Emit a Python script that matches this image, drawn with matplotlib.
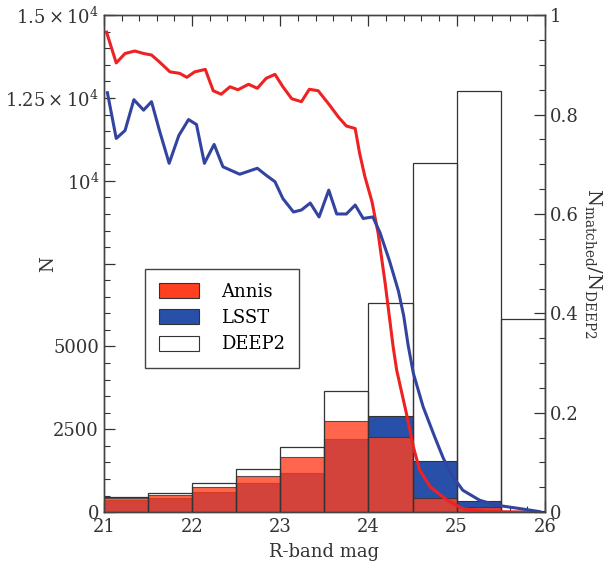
import matplotlib
matplotlib.use("Agg")
import matplotlib.pyplot as plt
from matplotlib.patches import Patch
from matplotlib.ticker import MultipleLocator
import numpy as np

plt.rcParams["font.family"] = ["DejaVu Serif"]
plt.rcParams["mathtext.fontset"] = "dejavuserif"

# histogram bins (R-band mag, 0.5 wide)
bin_left = [21.0, 21.5, 22.0, 22.5, 23.0, 23.5, 24.0, 24.5, 25.0, 25.5]
deep2_counts = [470, 575, 866, 1288, 1972, 3652, 6318, 10525, 12700, 5816]
annis_counts = [440, 520, 745, 1097, 1670, 2757, 2274, 435, 160, 5]
lsst_counts = [370, 440, 613, 885, 1188, 2193, 2898, 1539, 342, 25]

# matched fraction curves
annis_mag = [21.03, 21.14, 21.24, 21.35, 21.45, 21.54, 21.63, 21.75, 21.86, 21.94,
             22.03, 22.15, 22.24, 22.33, 22.43, 22.52, 22.64, 22.74, 22.84, 22.94,
             23.03, 23.13, 23.24, 23.33, 23.43, 23.56, 23.66, 23.75, 23.85, 23.90,
             23.96, 24.04, 24.11, 24.19, 24.28, 24.32, 24.43, 24.51, 24.58, 24.70,
             24.89, 25.07, 25.34, 25.90]
annis_frac = [0.966, 0.904, 0.923, 0.928, 0.923, 0.920, 0.906, 0.886, 0.883, 0.875,
              0.886, 0.891, 0.848, 0.841, 0.856, 0.850, 0.861, 0.853, 0.873, 0.881,
              0.856, 0.832, 0.826, 0.851, 0.848, 0.819, 0.795, 0.777, 0.772, 0.722,
              0.675, 0.625, 0.561, 0.460, 0.333, 0.286, 0.199, 0.131, 0.085, 0.051,
              0.024, 0.007, 0.001, 0.0]
lsst_mag = [21.04, 21.14, 21.24, 21.34, 21.45, 21.54, 21.63, 21.74, 21.85, 21.96,
            22.05, 22.14, 22.25, 22.35, 22.54, 22.74, 22.84, 22.94, 23.03, 23.15,
            23.24, 23.34, 23.44, 23.55, 23.64, 23.75, 23.85, 23.94, 24.05, 24.13,
            24.24, 24.34, 24.40, 24.45, 24.51, 24.62, 24.75, 24.85, 24.96, 25.07,
            25.26, 25.45, 25.72, 25.94]
lsst_frac = [0.844, 0.752, 0.768, 0.830, 0.809, 0.826, 0.768, 0.702, 0.758, 0.790,
             0.780, 0.702, 0.740, 0.695, 0.680, 0.692, 0.678, 0.665, 0.631, 0.604,
             0.608, 0.622, 0.594, 0.648, 0.600, 0.600, 0.618, 0.591, 0.594, 0.563,
             0.505, 0.445, 0.395, 0.336, 0.279, 0.212, 0.152, 0.108, 0.071, 0.044,
             0.024, 0.014, 0.007, 0.001]

annis_col = "#ff4020"
lsst_col = "#2850a8"
edge = "#333333"

fig = plt.figure(figsize=(6.04, 5.64), dpi=100)
ax = fig.add_axes([0.172, 0.092, 0.730, 0.881])

ax.bar(bin_left, lsst_counts, width=0.5, align="edge", color=lsst_col,
       edgecolor=edge, linewidth=0.8, zorder=2)
ax.bar(bin_left, annis_counts, width=0.5, align="edge", color=annis_col,
       alpha=0.8, edgecolor=edge, linewidth=0.8, zorder=3)
ax.bar(bin_left, deep2_counts, width=0.5, align="edge", facecolor="none",
       edgecolor=edge, linewidth=0.9, zorder=4)

ax.set_xlim(21, 26)
ax.set_ylim(0, 15000)
ax.set_xticks([21, 22, 23, 24, 25, 26])
ax.xaxis.set_minor_locator(MultipleLocator(0.2))
ax.set_yticks([0, 2500, 5000, 7500, 10000, 12500, 15000])
ax.set_yticklabels(["0", "2500", "5000", "", r"$10^4$",
                    r"$1.25\times10^4$", r"$1.5\times10^4$"])
ax.yaxis.set_minor_locator(MultipleLocator(500))
ax.tick_params(which="both", direction="in", top=True, right=False,
               labelsize=13, colors="#333333")
ax.tick_params(which="major", length=8, width=0.9)
ax.tick_params(which="minor", length=4, width=0.8)
ax.tick_params(axis="x", pad=4)
ax.set_xlabel("R-band mag", fontsize=13, labelpad=5, color="#333333")
ax.set_ylabel("N", fontsize=13, color="#333333")
ax.yaxis.set_label_coords(-0.105, 0.5)
for s in ax.spines.values():
    s.set_color("#444444")
    s.set_linewidth(1.0)

handles = [Patch(facecolor=annis_col, edgecolor=edge, linewidth=0.8),
           Patch(facecolor=lsst_col, edgecolor=edge, linewidth=0.8),
           Patch(facecolor="white", edgecolor=edge, linewidth=0.8)]
leg = ax.legend(handles, ["Annis", "LSST", "DEEP2"], loc="upper left",
                bbox_to_anchor=(0.093, 0.49), fontsize=13, fancybox=False,
                framealpha=1, edgecolor="#444444", handlelength=2.2,
                handleheight=0.9, labelspacing=0.45, borderpad=0.8,
                handletextpad=1.2, borderaxespad=0)
leg.get_frame().set_linewidth(1.0)

ax2 = ax.twinx()
ax2.plot(annis_mag, annis_frac, color="#ee2222", lw=2.2)
ax2.plot(lsst_mag, lsst_frac, color="#3344a0", lw=2.2)
ax2.set_ylim(0, 1)
ax2.set_yticks([0, 0.2, 0.4, 0.6, 0.8, 1.0])
ax2.set_yticklabels(["0", "0.2", "0.4", "0.6", "0.8", "1"])
ax2.yaxis.set_minor_locator(MultipleLocator(0.05))
ax2.tick_params(which="both", direction="in", labelsize=13, colors="#333333")
ax2.tick_params(which="major", length=8, width=0.9)
ax2.tick_params(which="minor", length=4, width=0.8)
ax2.set_ylabel(r"$\mathregular{N_{matched}/N_{DEEP2}}$", fontsize=14,
               rotation=270, labelpad=18, color="#333333")
for s in ax2.spines.values():
    s.set_color("#444444")
    s.set_linewidth(1.0)

fig.savefig("out.png", dpi=100, facecolor="white")
